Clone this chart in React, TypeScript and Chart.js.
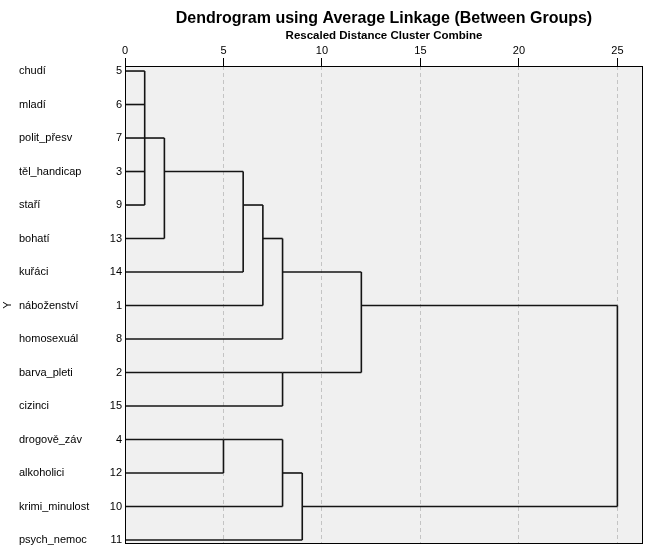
import React, { useEffect, useRef } from "react";
import { Chart, registerables } from "chart.js";

Chart.register(...registerables);

// ---- data ----
const itemNames = [
  "chudí", "mladí", "polit_přesv", "těl_handicap", "staří", "bohatí", "kuřáci",
  "náboženství", "homosexuál", "barva_pleti", "cizinci", "drogově_záv",
  "alkoholici", "krimi_minulost", "psych_nemoc",
];
const caseNumbers = [5, 6, 7, 3, 9, 13, 14, 1, 8, 2, 15, 4, 12, 10, 11];
const xTickValues = [0, 5, 10, 15, 20, 25];
// Merge steps: ids 0-14 are leaves (display order), id 15+k is the cluster built at step k
const mergeChildren = [
  [0, 1, 2, 3, 4],
  [15, 5],
  [16, 6],
  [17, 7],
  [18, 8],
  [9, 10],
  [19, 20],
  [11, 12],
  [22, 13],
  [23, 14],
  [21, 24],
];
const mergeDistances = [1, 2, 6, 7, 8, 8, 12, 5, 8, 9, 25];

const titleText = "Dendrogram using Average Linkage (Between Groups)";
const axisTitleText = "Rescaled Distance Cluster Combine";
const yTitleText = "Y";

const FONT = "'Liberation Sans', Arial, sans-serif";
const LINE_COLOR = "#141414";

function buildSegments() {
  const nodeRow: number[] = itemNames.map((_, i) => i);
  const nodeX: number[] = itemNames.map(() => 0);
  const segs: { x: number; y: number }[][] = [];
  mergeChildren.forEach((children, k) => {
    const d = mergeDistances[k];
    const rows = children.map((c) => nodeRow[c]);
    const minR = Math.min(...rows);
    const maxR = Math.max(...rows);
    children.forEach((c) => {
      segs.push([
        { x: nodeX[c], y: nodeRow[c] },
        { x: d, y: nodeRow[c] },
      ]);
    });
    segs.push([
      { x: d, y: minR },
      { x: d, y: maxR },
    ]);
    nodeRow.push(Math.floor((minR + maxR) / 2));
    nodeX.push(d);
  });
  return segs;
}

const zeroPad = (s: any) => {
  s.paddingTop = 0;
  s.paddingBottom = 0;
  s.paddingLeft = 0;
  s.paddingRight = 0;
};

const framePlugin = {
  id: "frame",
  beforeDraw(chart: any) {
    const { ctx, chartArea: a } = chart;
    ctx.save();
    ctx.fillStyle = "#f0f0f0";
    ctx.fillRect(a.left, a.top, a.right - a.left, a.bottom - a.top);
    ctx.restore();
  },
  afterDraw(chart: any) {
    const { ctx, chartArea: a } = chart;
    ctx.save();
    ctx.strokeStyle = "#000";
    ctx.lineWidth = 1;
    ctx.strokeRect(
      Math.round(a.left) + 0.5,
      Math.round(a.top) + 0.5,
      Math.round(a.right - a.left) - 1,
      Math.round(a.bottom - a.top) - 1
    );
    // rotated Y-axis title
    const midY = (a.top + a.bottom) / 2;
    ctx.translate(8, midY);
    ctx.rotate(-Math.PI / 2);
    ctx.fillStyle = "#000";
    ctx.font = `11px ${FONT}`;
    ctx.textAlign = "center";
    ctx.textBaseline = "middle";
    ctx.fillText(yTitleText, 0, 0);
    ctx.restore();
  },
};

export default function App() {
  const ref = useRef<HTMLCanvasElement | null>(null);

  useEffect(() => {
    if (!ref.current) return;
    const segs = buildSegments();
    const rowMin = -0.15;
    const rowMax = 14.12;
    const chart = new Chart(ref.current, {
      type: "scatter",
      data: {
        datasets: segs.map((s) => ({
          data: s,
          showLine: true,
          borderColor: LINE_COLOR,
          backgroundColor: LINE_COLOR,
          borderWidth: 1.6,
          pointRadius: 0,
          pointHoverRadius: 0,
          fill: false,
          xAxisID: "x",
          yAxisID: "y",
        })),
      },
      options: {
        responsive: false,
        animation: false,
        devicePixelRatio: 1,
        layout: { padding: { left: 19, right: 8, top: 0, bottom: 7 } },
        plugins: {
          legend: { display: false },
          tooltip: { enabled: false },
          title: { display: false },
        },
        scales: {
          xTitle: {
            type: "linear",
            axis: "x",
            position: "top",
            weight: 2,
            min: 0,
            max: 26.3,
            ticks: { display: false },
            grid: { display: false, drawTicks: false },
            border: { display: false },
            title: {
              display: true,
              text: titleText,
              color: "#000",
              font: { family: FONT, size: 16, weight: "bold" },
              padding: { top: 9.2, bottom: 0 },
            },
            afterFit: (s: any) => {
              s.height = 26;
              zeroPad(s);
            },
          },
          x: {
            type: "linear",
            position: "top",
            weight: 1,
            min: 0,
            max: 26.3,
            afterBuildTicks: (s: any) => {
              s.ticks = xTickValues.map((v) => ({ value: v }));
            },
            ticks: {
              color: "#000",
              padding: 0,
              font: { family: FONT, size: 11 },
              callback: (v: any) => String(v),
              maxRotation: 0,
            },
            grid: {
              display: true,
              drawOnChartArea: true,
              drawTicks: true,
              tickLength: 8,
              tickColor: "#000",
              tickWidth: 1,
              tickBorderDash: [],
              lineWidth: 1,
              color: (c: any) => (c.tick && c.tick.value === 0 ? "rgba(0,0,0,0)" : "#c4c4c4"),
            },
            border: { display: false, dash: [4, 3] },
            title: {
              display: true,
              text: axisTitleText,
              color: "#000",
              font: { family: FONT, size: 11.5, weight: "bold" },
              padding: { top: 2.5, bottom: 0 },
            },
            afterFit: (s: any) => {
              s.height = 40;
              zeroPad(s);
            },
          },
          y: {
            type: "linear",
            position: "left",
            weight: 1,
            reverse: true,
            min: rowMin,
            max: rowMax,
            afterBuildTicks: (s: any) => {
              s.ticks = caseNumbers.map((_, i) => ({ value: i }));
            },
            ticks: {
              color: "#000",
              padding: 3,
              font: { family: FONT, size: 11 },
              callback: (v: any) => String(caseNumbers[Math.round(v)] ?? ""),
            },
            grid: { display: false, drawTicks: false },
            border: { display: false },
            afterFit: (s: any) => {
              s.width = 30;
              zeroPad(s);
            },
          },
          yNames: {
            type: "linear",
            axis: "y",
            position: "left",
            weight: 2,
            reverse: true,
            min: rowMin,
            max: rowMax,
            afterBuildTicks: (s: any) => {
              s.ticks = itemNames.map((_, i) => ({ value: i }));
            },
            ticks: {
              color: "#000",
              padding: 0,
              crossAlign: "far",
              font: { family: FONT, size: 11 },
              callback: (v: any) => itemNames[Math.round(v)] ?? "",
            },
            grid: { display: false, drawTicks: false },
            border: { display: false },
            afterFit: (s: any) => {
              s.width = 76;
              zeroPad(s);
            },
          },
        },
      },
      plugins: [framePlugin],
    } as any);
    return () => chart.destroy();
  }, []);

  return (
    <div style={{ position: "absolute", left: 0, top: 0, width: 651, height: 551, background: "#fff" }}>
      <canvas ref={ref} width={651} height={551} style={{ display: "block" }} />
    </div>
  );
}
